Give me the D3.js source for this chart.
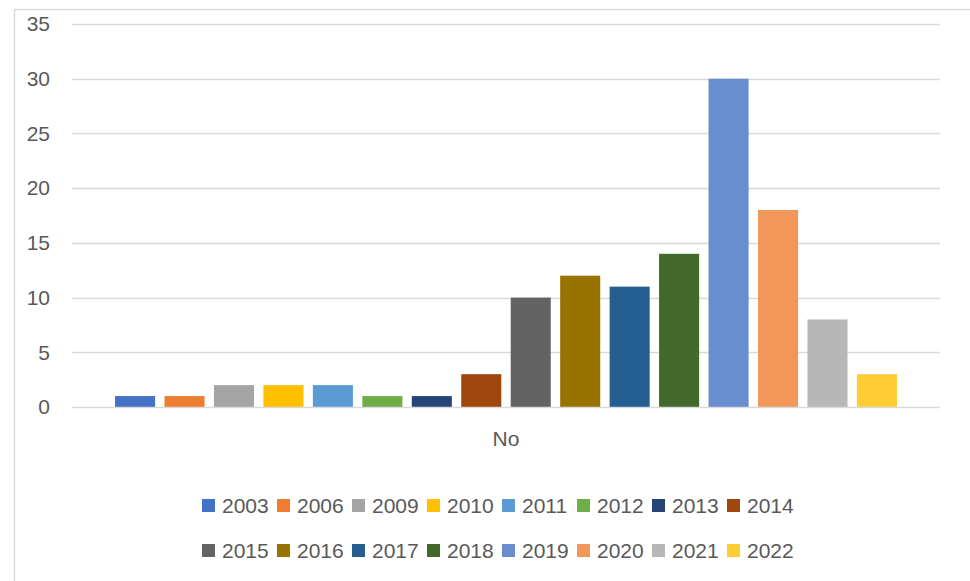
<!DOCTYPE html>
<html>
<head>
<meta charset="utf-8">
<script src="https://cdn.jsdelivr.net/npm/d3@7"></script>
<style>
	body { margin: 0; background: #fff; }
	svg text { font-family: "Liberation Sans", Arial, sans-serif; fill: #595959; }
</style>
</head>
<body>
<svg id="wrapper" width="970" height="581"></svg>
<script>
let categories = ["No"];
let seriesNames = ["2003", "2006", "2009", "2010", "2011", "2012", "2013", "2014",
	"2015", "2016", "2017", "2018", "2019", "2020", "2021", "2022"];
let seriesValues = [1, 1, 2, 2, 2, 1, 1, 3, 10, 12, 11, 14, 30, 18, 8, 3];
let seriesColors = ["#4472C4", "#ED7D31", "#A5A5A5", "#FFC000", "#5B9BD5", "#70AD47",
	"#264478", "#9E480E", "#636363", "#997300", "#255E91", "#43682B",
	"#698ED0", "#F1975A", "#B7B7B7", "#FFCD33"];
let yTicks = [0, 5, 10, 15, 20, 25, 30, 35];

let svg = d3.select("#wrapper");
const plot = { left: 72, right: 940, top: 24, bottom: 407 };

// chart border (right and bottom edges run off the page)
svg.append("rect")
	.attr("x", 14.5).attr("y", 9.5)
	.attr("width", 970).attr("height", 600)
	.attr("fill", "none").attr("stroke", "#d9d9d9").attr("stroke-width", 1.5);

let y = d3.scaleLinear().domain([0, 35]).range([plot.bottom, plot.top]);
let x0 = d3.scaleBand().domain(categories).range([plot.left, plot.right]);
let x1 = d3.scaleBand().domain(seriesNames)
	.range([plot.left, plot.right])
	.paddingInner(0.19).paddingOuter(0.87);

// gridlines
svg.append("g")
	.selectAll("line")
	.data(yTicks.filter((t) => t > 0))
	.enter()
	.append("line")
	.attr("x1", plot.left).attr("x2", plot.right)
	.attr("y1", (d) => Math.round(y(d)) + 0.5)
	.attr("y2", (d) => Math.round(y(d)) + 0.5)
	.attr("stroke", "#d9d9d9").attr("stroke-width", 1.5);

// y labels
let yAxis = d3.axisLeft(y).tickValues(yTicks).tickSize(0).tickPadding(0);
let gy = svg.append("g").attr("transform", "translate(50,0)").call(yAxis);
gy.select(".domain").remove();
gy.selectAll("text").attr("font-size", 21).style("fill", "#595959");

// bars
svg.append("g")
	.selectAll("rect")
	.data(seriesNames)
	.enter()
	.append("rect")
	.attr("x", (d) => x1(d))
	.attr("width", x1.bandwidth())
	.attr("y", (d, i) => y(seriesValues[i]))
	.attr("height", (d, i) => plot.bottom - y(seriesValues[i]))
	.attr("fill", (d, i) => seriesColors[i]);

// category axis
svg.append("line")
	.attr("x1", plot.left).attr("x2", plot.right)
	.attr("y1", plot.bottom + 0.5).attr("y2", plot.bottom + 0.5)
	.attr("stroke", "#d9d9d9").attr("stroke-width", 1.5);
svg.append("g")
	.selectAll("text")
	.data(categories)
	.enter()
	.append("text")
	.attr("x", (d) => x0(d) + x0.bandwidth() / 2)
	.attr("y", 446)
	.attr("text-anchor", "middle")
	.attr("font-size", 21)
	.text((d) => d);

// legend, two rows of eight
let legend = svg.append("g")
	.selectAll("g")
	.data(seriesNames)
	.enter()
	.append("g")
	.attr("transform", (d, i) => "translate(" + (202 + (i % 8) * 75) + "," + (i < 8 ? 499 : 544) + ")");
legend.append("rect")
	.attr("width", 13).attr("height", 13)
	.attr("fill", (d, i) => seriesColors[i]);
legend.append("text")
	.attr("x", 20).attr("y", 14)
	.attr("font-size", 21)
	.text((d) => d);
</script>
</body>
</html>
